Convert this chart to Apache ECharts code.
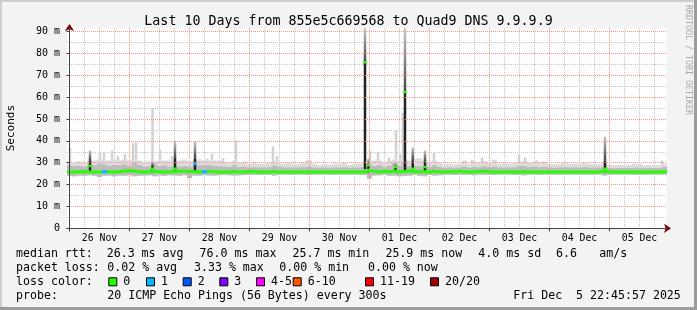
<!DOCTYPE html>
<html><head><meta charset="utf-8">
<script src="https://cdn.jsdelivr.net/npm/echarts@6/dist/echarts.min.js"></script>
<style>html,body{margin:0;padding:0;background:#f3f3f3}#c{width:697px;height:310px}</style>
</head><body><div id="c"></div>
<script>
// ---------------- DATA ----------------
const titleText = 'Last 10 Days from 855e5c669568 to Quad9 DNS 9.9.9.9';
const yAxisName = 'Seconds';
const watermark = 'RRDTOOL / TOBI OETIKER';
const dayLabels = ['26 Nov','27 Nov','28 Nov','29 Nov','30 Nov','01 Dec','02 Dec','03 Dec','04 Dec','05 Dec'];
const yTicks = [0,10,20,30,40,50,60,70,80,90];        // ms
const yMinorTicks = [5,15,25,35,45,55,65,75,85];      // ms
// time: hours since 26 Nov 00:00; chart covers 25 Nov 23:00 .. 05 Dec 23:00
const timeStart = -1, timeEnd = 239;
const binStartHour = -1, binHours = 2;                // 120 two-hour bins

const median = [
25.8,25.8,25.9,25.9,25.8,25.8,25.8,25.9,25.8,25.8,
25.9,26.2,26.3,26.2,25.9,25.8,25.8,26.1,25.9,25.8,
25.8,25.9,26.1,26.2,26.0,25.9,25.8,25.9,26.1,25.9,
25.8,25.8,25.8,25.9,25.8,25.8,26.0,25.9,25.8,25.8,
25.8,25.9,25.8,25.8,25.8,25.8,25.8,25.8,25.8,25.8,
25.8,25.8,25.8,25.8,25.8,25.8,25.8,25.8,25.8,25.8,
26.4,26.1,25.9,26.0,26.0,26.1,25.9,26.0,26.2,26.0,
25.9,25.9,25.8,26.0,25.9,25.8,25.9,25.9,26.1,25.9,
25.8,25.9,26.0,26.1,25.9,25.8,25.8,25.8,25.9,25.8,
25.8,25.9,25.8,25.8,25.8,25.8,25.8,25.8,25.8,25.8,
25.8,25.8,25.8,25.8,25.8,25.8,25.9,26.1,25.9,25.8,
25.8,25.8,25.8,25.8,25.8,25.8,25.8,25.8,25.8,25.9];

const smokeMin = [
24,23.8,24.2,24,24.3,24,23.5,24,24.2,23.8,
24.2,24,24.3,23.8,24,24.2,24.3,23.8,24.2,24,
24.3,24.2,24,24.3,23,24.2,24,24.3,24.1,24.2,
24.3,24.4,24.3,24.1,24.3,24.4,24.4,24.5,24.4,24.5,
24.4,24.2,24.4,24.5,24.5,24.4,24.5,24.5,24.4,24.5,
24.5,24.5,24.4,24.5,24.5,24.4,24.5,24.5,24.4,24.4,
22.8,24.2,24.3,24.5,24,24.2,23.8,24,24.2,24.4,
24,23.8,24.4,24.2,24.3,24.5,24.5,24.4,24.5,24.4,
24.5,24.3,24.5,24.4,24.5,24.4,24.5,24.5,24.5,24.4,
24.4,24.3,24.5,24.5,24.4,24.5,24.5,24.5,24.4,24.5,
24.5,24.5,24.5,24.4,24.5,24.5,24.5,24.2,24.5,24.5,
24.5,24.5,24.5,24.4,24.5,24.5,24.5,24.5,24.5,24.5];

const smokeUpper = [
28.8,28.5,28.5,28.3,29,28.8,29.5,29.2,28.6,29,
28.8,29.2,28.5,30,29,28.3,28.3,29.5,28.4,28.8,
28.3,28.8,28.3,28.5,28.2,28.5,28.8,28.8,29,28.5,
28.4,28.2,28,28.8,28,28.2,27.8,27.9,27.8,27.8,
27.9,28.6,28.2,27.8,27.8,27.8,27.8,27.9,28.1,27.8,
27.7,27.8,27.7,27.8,27.8,27.9,27.7,27.8,27.8,28,
29.2,28.5,28.8,28,28.6,29.8,28.6,30.5,28.4,28.6,
28.4,28.2,28,28.8,28,27.7,27.8,27.7,27.8,28.2,
27.8,28.2,27.9,28.4,27.9,28.2,27.8,27.8,27.8,27.9,
28.6,28.4,27.9,28.1,27.9,28,27.8,27.7,27.8,27.9,
27.8,27.8,27.8,27.9,27.8,27.8,27.8,28.2,27.6,27.5,
27.6,27.5,27.6,27.7,27.7,27.5,27.6,27.5,27.6,28];

const smokeMax = [
30.5,30,30.5,30,31,31,31.5,31,31,31.5,
31,31.5,31,31.5,31,30,30.5,30.5,31,31,
31,31,31,31.5,30.5,31,31.5,31,31,31,
31,30.5,30,31,30,30.5,29.5,30,29.5,29.5,
30,30.5,30,29.5,30,29.5,29.5,30,31,29.5,
29,29.5,29,29.5,29.5,30,29,29.5,29.5,30,
31,31,31,30,31,31.5,31,31.5,31,32,
32,31,30,31,30,29.3,29.5,29.3,29.5,31,
29.5,30,30,30.5,30,31.3,29.5,29.8,29.5,30,
30.5,30.5,30,30,30,30.5,29.5,29.3,29.5,30,
29.5,29.5,29.5,30,29.5,29.5,29.3,30,29,28.8,
29,28.8,29,29.5,29.5,28.8,29,28.8,29,29.5];

// narrow light smoke peaks: [hour, top ms]
const smokePeaks = [
  [0.2,37],[12.2,34.4],[13.8,34.5],[17,35.6],[19.4,33],[22.2,34],[25.4,38.9],[26.6,39.4],
  [33.2,55],[36.2,36],[41,33],[55,31.8],[57,34],[61.4,32],[66.6,40],[81.4,37.4],[83,33],
  [95,31],[120.2,35.6],[123.4,34.9],[127.8,32.4],[130.6,44.7],[132.2,34],[133.4,53],
  [145.8,34.5],[161,31.3],[165,32.4],[179.8,34.1],[182.2,32.4],[187,31],[237,31]
];

// bins whose median had packet loss: [binIndex, lostPings]
const lossBins = [[7,1],[27,1]];

// narrow dark smoke spikes: [hour, low, darkTop, fadeTop, median, lostPings]
const spikes = [
  [8.2, 25.5, 31, 35.6, 28.5, 0],
  [33.2, 25.5, 28.5, 30.5, 27.3, 0],
  [42.2, 25.5, 32, 40, 27.3, 0],
  [50.2, 25.5, 32, 39.7, 29.5, 1],
  [118.2, 27, 76, 92, 76, 0],
  [119.6, 25.5, 28.5, 32, 29, 0],
  [130.4, 25.5, 28, 30, 28, 0],
  [134.2, 25.5, 62.4, 92, 62.4, 0],
  [137.3, 25.5, 31, 37, 27.3, 0],
  [142.2, 25.5, 30.5, 35.6, 28, 0],
  [214.2, 25.5, 31, 42, 27.3, 0]
];

const lossLabels = ['0','1','2','3','4-5','6-10','11-19','20/20'];
const lossColors = ['#26ff00','#00b8ff','#0059ff','#7e00ff','#ff00ff','#ff5500','#ff0000','#a10000'];
const lossIndexForCount = c => c === 0 ? 0 : c === 1 ? 1 : c === 2 ? 2 : c === 3 ? 3 : c <= 5 ? 4 : c <= 10 ? 5 : c <= 19 ? 6 : 7;

const rttLabel = 'median rtt:';
const rttStats = ['26.3 ms avg','76.0 ms max','25.7 ms min','25.9 ms now','4.0 ms sd','6.6','am/s'];
const lossLabel = 'packet loss:';
const lossStats = ['0.02 % avg','3.33 % max','0.00 % min','0.00 % now'];
const lossColorLabel = 'loss color:';
const probeLabel = 'probe:';
const probeText = '20 ICMP Echo Pings (56 Bytes) every 300s';
const dateText = 'Fri Dec  5 22:45:57 2025';

// ---------------- BUILD ----------------
const FONT = 'DejaVu Sans Mono';
const yMax = 91.6;
const midnights = dayLabels.map((_, i) => i * 24);
const noons = dayLabels.map((_, i) => i * 24 + 12);
const minorX = [];
for (let h = 0; h < timeEnd; h += 6) if (h % 24) minorX.push(h);

const lossByBin = {};
lossBins.forEach(([b, c]) => lossByBin[b] = c);

const outerData = [], midData = [], medData = [];
for (let i = 0; i < median.length; i++) {
  const t0 = binStartHour + i * binHours, t1 = t0 + binHours;
  outerData.push([t0, t1, smokeMin[i], smokeMax[i]]);
  midData.push([t0, t1, smokeMin[i], smokeUpper[i]]);
  medData.push([t0, t1, median[i], lossIndexForCount(lossByBin[i] || 0)]);
}
const peakHalf = 0.5; // hours
const peakData = smokePeaks.map(([h, top]) => [h - peakHalf, h + peakHalf, 25, top]);

function bandRender(color) {
  return function (params, api) {
    const hi = Math.min(api.value(3), yMax);
    const p0 = api.coord([api.value(0), hi]);
    const p1 = api.coord([api.value(1), api.value(2)]);
    return {type: 'rect', shape: {x: p0[0], y: p0[1], width: p1[0] - p0[0], height: p1[1] - p0[1]},
            style: {fill: color}};
  };
}
function medianRender(params, api) {
  const p0 = api.coord([api.value(0), api.value(2)]);
  const p1 = api.coord([api.value(1), api.value(2)]);
  return {type: 'rect', shape: {x: p0[0], y: p0[1] - 1.5, width: p1[0] - p0[0], height: 3},
          style: {fill: lossColors[api.value(3)]}};
}
const spikeHalfWidth = 0.5; // hours
function spikeRender(params, api) {
  const h = api.value(0), lo = api.value(1), dk = Math.min(api.value(2), yMax),
        ft = Math.min(api.value(3), yMax), md = api.value(4), loss = lossIndexForCount(api.value(5));
  const a = api.coord([h - spikeHalfWidth, dk]), b = api.coord([h + spikeHalfWidth, lo]);
  const c = api.coord([h - spikeHalfWidth, ft]);
  const m0 = api.coord([h - spikeHalfWidth - 0.2, md]), m1 = api.coord([h + spikeHalfWidth + 0.2, md]);
  const children = [
    {type: 'rect', shape: {x: c[0], y: c[1], width: b[0] - a[0], height: a[1] - c[1]},
     style: {fill: new echarts.graphic.LinearGradient(0, 0, 0, 1, [{offset: 0, color: '#c8c8c8'}, {offset: 1, color: '#444444'}])}},
    {type: 'rect', shape: {x: a[0], y: a[1], width: b[0] - a[0], height: b[1] - a[1]}, style: {fill: '#222222'}}
  ];
  if (md <= yMax) children.push({type: 'rect', shape: {x: m0[0], y: m0[1] - 1.2, width: m1[0] - m0[0], height: 2.5},
                                 style: {fill: lossColors[loss]}});
  return {type: 'group', children};
}

const chart = echarts.init(document.getElementById('c'), null, {renderer: 'canvas', width: 697, height: 310});

const graphics = [];
function txt(x, y, s) {
  graphics.push({type: 'text', x, y, silent: true,
    style: {text: s, font: '11.6px "' + FONT + '"', fill: '#000', textAlign: 'left', textVerticalAlign: 'middle'}});
}
// frame
graphics.push({type: 'rect', shape: {x: 0, y: 0, width: 697, height: 2}, style: {fill: '#cdcdcd'}, silent: true});
graphics.push({type: 'rect', shape: {x: 0, y: 0, width: 2, height: 310}, style: {fill: '#cdcdcd'}, silent: true});
graphics.push({type: 'rect', shape: {x: 0, y: 307, width: 697, height: 3}, style: {fill: '#9c9c9c'}, silent: true});
graphics.push({type: 'rect', shape: {x: 694, y: 0, width: 3, height: 310}, style: {fill: '#9c9c9c'}, silent: true});
// watermark
graphics.push({type: 'text', x: 688, y: 5, rotation: -Math.PI / 2, silent: true,
  style: {text: watermark, font: '8.3px "' + FONT + '"', fill: '#a8a8a8', textAlign: 'left', textVerticalAlign: 'middle'}});
// legend rows
const row = [254, 268.3, 282.3, 296];
const rttX = [106.7, 199.6, 292.5, 385.4, 478.3, 556, 599.3];
txt(16, row[0], rttLabel);
rttStats.forEach((s, i) => txt(rttX[i], row[0], s));
const lossX = [107.3, 194, 279.3, 368];
txt(16, row[1], lossLabel);
lossStats.forEach((s, i) => txt(lossX[i], row[1], s));
txt(16, row[2], lossColorLabel);
const sqX = [108.3, 146, 182.7, 219.3, 256, 292.7, 365, 430];
lossLabels.forEach((l, i) => {
  graphics.push({type: 'rect', silent: true, shape: {x: sqX[i] + 0.5, y: row[2] - 4.5, width: 8, height: 8},
                 style: {fill: lossColors[i], stroke: '#000', lineWidth: 1}});
  txt(sqX[i] + 15, row[2], l);
});
txt(16, row[3], probeLabel);
txt(107.3, row[3], probeText);
txt(513.3, row[3], dateText);

const gridLineRed = {color: '#ff8f8f', width: 1, type: [1, 1]};
const gridLineGray = {color: '#c4c4c4', width: 1, type: [1, 1]};
const axisCol = '#404040';

chart.setOption({
  animation: false,
  backgroundColor: '#f3f3f3',
  title: {text: titleText, left: 'center', top: 10,
          textStyle: {fontFamily: FONT, fontSize: 13.3, fontWeight: 'normal', color: '#000', lineHeight: 14}},
  grid: {left: 67, top: 28, width: 600, height: 200.3, show: true, backgroundColor: '#ffffff', borderWidth: 0,
         containLabel: false, outerBoundsMode: 'none'},
  xAxis: [
    {type: 'value', min: timeStart, max: timeEnd, position: 'bottom', z: 5,
     axisLine: {show: true, lineStyle: {color: axisCol, width: 1}},
     axisTick: {show: true, customValues: midnights, length: 3, lineStyle: {color: axisCol}},
     axisLabel: {show: true, customValues: noons, margin: 5, color: '#000', fontFamily: FONT, fontSize: 9.8,
                 formatter: v => dayLabels[Math.round((v - 12) / 24)] || ''},
     splitLine: {show: true, lineStyle: gridLineRed}},
    {type: 'value', min: timeStart, max: timeEnd, position: 'bottom', z: 1,
     axisLine: {show: false}, axisTick: {show: false, customValues: minorX}, axisLabel: {show: false},
     splitLine: {show: true, lineStyle: gridLineGray}},
    {type: 'value', min: timeStart, max: timeEnd, position: 'bottom', z: 4,
     axisLine: {show: true, symbol: ['none', 'arrow'], symbolSize: [7, 7], symbolOffset: [0, 4],
                lineStyle: {color: '#7a0000', width: 1}},
     axisTick: {show: false}, axisLabel: {show: false}, splitLine: {show: false}}
  ],
  yAxis: [
    {type: 'value', min: 0, max: yMax, position: 'left', z: 5,
     name: yAxisName, nameLocation: 'middle', nameGap: 50, nameRotate: 90,
     nameTextStyle: {fontFamily: FONT, fontSize: 11, color: '#000'},
     axisLine: {show: true, lineStyle: {color: axisCol, width: 1}},
     axisTick: {show: true, customValues: yTicks, length: 3, lineStyle: {color: axisCol}},
     axisLabel: {show: true, customValues: yTicks, margin: 7, color: '#000', fontFamily: FONT, fontSize: 10,
                 formatter: v => v === 0 ? '0' : v + ' m'},
     splitLine: {show: true, lineStyle: gridLineRed}},
    {type: 'value', min: 0, max: yMax, position: 'left', z: 1,
     axisLine: {show: false}, axisTick: {show: false, customValues: yMinorTicks}, axisLabel: {show: false},
     splitLine: {show: true, lineStyle: gridLineGray}},
    {type: 'value', min: 0, max: yMax, position: 'left', z: 4,
     axisLine: {show: true, symbol: ['none', 'arrow'], symbolSize: [7, 7], symbolOffset: [0, 4],
                lineStyle: {color: '#7a0000', width: 1}},
     axisTick: {show: false}, axisLabel: {show: false}, splitLine: {show: false}}
  ],
  series: [
    {type: 'custom', name: 'smoke peaks', xAxisIndex: 0, yAxisIndex: 0, z: 2, clip: true, silent: true,
     encode: {x: [0, 1], y: [2, 3]}, renderItem: bandRender('#d2d2d2'), data: peakData},
    {type: 'custom', name: 'smoke', xAxisIndex: 0, yAxisIndex: 0, z: 2, clip: true, silent: true,
     encode: {x: [0, 1], y: [2, 3]}, renderItem: bandRender('#dcdcdc'), data: outerData},
    {type: 'custom', name: 'smoke core', xAxisIndex: 0, yAxisIndex: 0, z: 3, clip: true, silent: true,
     encode: {x: [0, 1], y: [2, 3]}, renderItem: bandRender('#bcbcbc'), data: midData},
    {type: 'custom', name: 'spikes', xAxisIndex: 0, yAxisIndex: 0, z: 4, clip: true, silent: true,
     encode: {x: 0, y: [1, 2, 3]}, renderItem: spikeRender, data: spikes},
    {type: 'custom', name: 'median', xAxisIndex: 0, yAxisIndex: 0, z: 5, clip: true, silent: true,
     encode: {x: [0, 1], y: 2}, renderItem: medianRender, data: medData}
  ],
  graphic: graphics
});
</script></body></html>
